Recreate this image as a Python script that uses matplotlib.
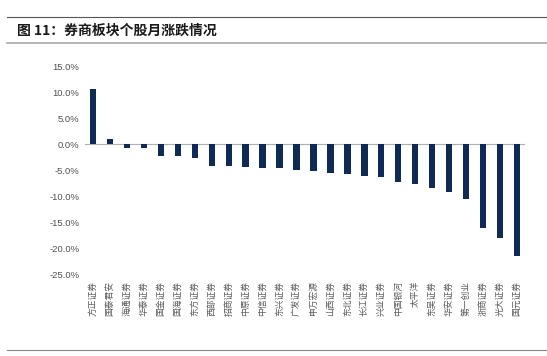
import matplotlib
matplotlib.use("Agg")
import matplotlib.pyplot as plt
from matplotlib.ticker import FuncFormatter, MultipleLocator
from matplotlib.lines import Line2D

plt.rcParams['font.family'] = ['Noto Sans CJK SC', 'DejaVu Sans']

title = "图 11：券商板块个股月涨跌情况"
stocks = ["方正证券", "国泰君安", "海通证券", "华泰证券", "国金证券", "国海证券",
          "东方证券", "西部证券", "招商证券", "中原证券", "中信证券", "东兴证券",
          "广发证券", "申万宏源", "山西证券", "东北证券", "长江证券", "兴业证券",
          "中国银河", "太平洋", "东吴证券", "华安证券", "第一创业", "浙商证券",
          "光大证券", "国元证券"]
changes = [10.5, 0.9, -0.8, -0.8, -2.3, -2.4, -2.6, -4.2, -4.2, -4.4, -4.7, -4.7,
           -5.0, -5.1, -5.6, -5.7, -6.1, -6.4, -7.4, -7.6, -8.4, -9.2, -10.6,
           -16.1, -18.1, -21.5]

W, H = 547, 356
fig = plt.figure(figsize=(W / 100, H / 100), dpi=100)
ax = fig.add_axes([84.8 / W, 1 - 274 / H, (525.2 - 84.8) / W, (274 - 66) / H])

x = list(range(len(stocks)))
ax.bar(x, changes, width=0.38, color="#0f2a54", zorder=3)
ax.set_xlim(-0.5, len(stocks) - 0.5)
ax.set_ylim(-25, 15)
ax.yaxis.set_major_locator(MultipleLocator(5))
ax.yaxis.set_major_formatter(FuncFormatter(lambda v, p: f"{v:.1f}%"))

for s in ["top", "right", "left", "bottom"]:
    ax.spines[s].set_visible(False)
ax.axhline(0, color="#b0b0b0", lw=0.8, zorder=2)

ax.set_xticks(x)
ax.set_xticklabels(stocks, rotation=90, fontsize=6.3, color="#595959", va="top", ha="center")
ax.tick_params(axis="x", length=0, pad=5)
ax.tick_params(axis="y", length=0, pad=4)
for lab in ax.get_yticklabels():
    lab.set_fontfamily(["Liberation Sans", "DejaVu Sans"])
    lab.set_fontsize(6.8)
    lab.set_color("#505050")

# header / footer decoration
fig.add_artist(Line2D([0.012, 1], [1 - 17 / H, 1 - 17 / H], color="#555555", lw=0.8))
fig.add_artist(Line2D([0.012, 1], [1 - 42.5 / H, 1 - 42.5 / H], color="#aaaaaa", lw=1.2))
fig.text(17 / W, 1 - 31 / H, title, fontsize=10, fontweight="bold",
         color="#1a1a1a", va="center", ha="left")
fig.add_artist(Line2D([0.012, 1], [1 - 350 / H, 1 - 350 / H], color="#888888", lw=0.8))

fig.savefig("out.png", dpi=100)
